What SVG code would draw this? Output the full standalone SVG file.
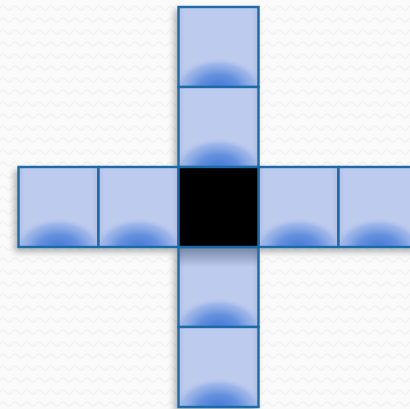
<svg xmlns="http://www.w3.org/2000/svg" width="410" height="409" viewBox="0 0 410 409">
<defs>
<pattern id="bgp" width="12" height="12" patternUnits="userSpaceOnUse">
<rect width="12" height="12" fill="#fafafa"/>
<path d="M0 8 Q3 4 6 8 T12 8" fill="none" stroke="#f0f0f0" stroke-width="1.2"/>
</pattern>
<radialGradient id="glow" gradientUnits="userSpaceOnUse" cx="40" cy="82" r="46" gradientTransform="translate(0,82) scale(1,0.68) translate(0,-82)">
<stop offset="0" stop-color="#3f75d6" stop-opacity="1"/>
<stop offset="0.45" stop-color="#4d81d9" stop-opacity="0.8"/>
<stop offset="0.8" stop-color="#6690de" stop-opacity="0.35"/>
<stop offset="1" stop-color="#bccbee" stop-opacity="0"/>
</radialGradient>
<linearGradient id="topshade" x1="0" y1="0" x2="0" y2="1">
<stop offset="0" stop-color="#3a4a6a" stop-opacity="0.55"/>
<stop offset="0.25" stop-color="#3a4a6a" stop-opacity="0"/>
</linearGradient>
<linearGradient id="edge" x1="0" y1="0" x2="1" y2="0">
<stop offset="0" stop-color="#5a6f9a" stop-opacity="0.12"/>
<stop offset="0.08" stop-color="#5a6f9a" stop-opacity="0"/>
<stop offset="0.92" stop-color="#5a6f9a" stop-opacity="0"/>
<stop offset="1" stop-color="#5a6f9a" stop-opacity="0.15"/>
</linearGradient>
<filter id="sh" x="-20%" y="-20%" width="140%" height="140%">
<feGaussianBlur in="SourceAlpha" stdDeviation="3"/>
<feOffset dx="-3" dy="4" result="b"/>
<feFlood flood-color="#000" flood-opacity="0.28"/>
<feComposite in2="b" operator="in" result="s"/>
<feMerge><feMergeNode in="s"/><feMergeNode in="SourceGraphic"/></feMerge>
</filter>
<g id="cell">
<rect x="0" y="0" width="80" height="80" fill="#bccbee"/>
<rect x="0" y="0" width="80" height="80" fill="url(#edge)"/>
<rect x="0" y="0" width="80" height="80" fill="url(#glow)"/>
</g>
</defs>
<style>
.b{fill:none;stroke:#1b6aa6;stroke-width:2.4}
</style>
<rect width="410" height="409" fill="url(#bgp)"/>
<g filter="url(#sh)">
<g id="n-top1" transform="translate(178.5,7)"><use href="#cell"/><rect class="b" width="80" height="80"/></g>
<g id="n-top2" transform="translate(178.5,87)"><use href="#cell"/><rect class="b" width="80" height="80"/></g>
<g id="n-left1" transform="translate(18.5,167)"><use href="#cell"/><rect class="b" width="80" height="80"/></g>
<g id="n-left2" transform="translate(98.5,167)"><use href="#cell"/><rect class="b" width="80" height="80"/></g>
<g id="n-right1" transform="translate(258.5,167)"><use href="#cell"/><rect class="b" width="80" height="80"/></g>
<g id="n-right2" transform="translate(338.5,167)"><use href="#cell"/><rect class="b" width="80" height="80"/></g>
<g id="n-bottom1" transform="translate(178.5,247)"><use href="#cell"/><rect width="80" height="80" fill="url(#topshade)"/><rect class="b" width="80" height="80"/></g>
<g id="n-bottom2" transform="translate(178.5,327)"><use href="#cell"/><rect class="b" width="80" height="80"/></g>
<g id="n-center" transform="translate(178.5,167)"><rect width="80" height="80" fill="#000"/><rect class="b" width="80" height="80"/></g>
</g>
</svg>
